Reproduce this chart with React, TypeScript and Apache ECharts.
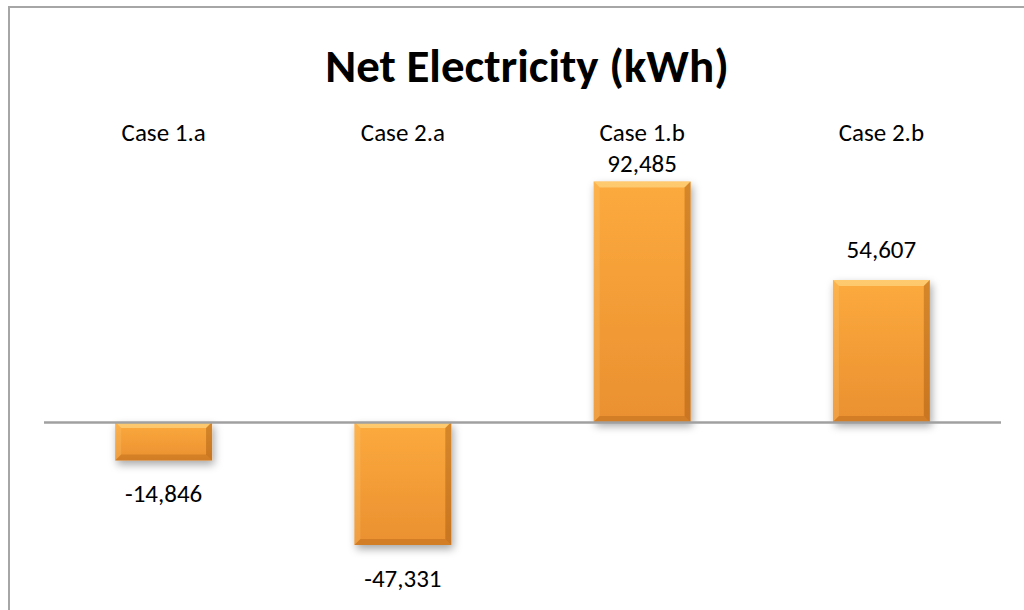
import React, { useEffect, useRef } from "react";
import * as echarts from "echarts";

// Net electricity per case (kWh)
const categories = ["Case 1.a", "Case 2.a", "Case 1.b", "Case 2.b"];
const netKwh = [-14846, -47331, 92485, 54607];

const FONT = "Carlito, Calibri, Lato, 'Noto Sans', sans-serif";

export default function App() {
  const ref = useRef<HTMLDivElement>(null);

  useEffect(() => {
    if (!ref.current) return;
    const chart = echarts.init(ref.current, null, { renderer: "svg" });

    const barFill = new echarts.graphic.LinearGradient(0, 0, 0, 1, [
      { offset: 0, color: "#fcaa3e" },
      { offset: 1, color: "#ea9030" },
    ]);

    const renderBar = (params: any, api: any) => {
      const i = api.value(0);
      const v = api.value(1);
      const base = api.coord([i, 0]);
      const end = api.coord([i, v]);
      const bw = api.size([1, 0])[0] * 0.405;
      const x0 = base[0] - bw / 2;
      const x1 = x0 + bw;
      const top = Math.min(base[1], end[1]);
      const bot = Math.max(base[1], end[1]);
      const h = bot - top;
      const b = Math.min(6, h / 3);
      const gridTop = params.coordSys.y;
      // value labels sit outside the bar end, kept clear of the category labels
      const labelY = v >= 0 ? Math.max(top - 31, gridTop + 1) : bot + 33;
      return {
        type: "group",
        children: [
          {
            type: "rect",
            shape: { x: x0, y: top, width: bw, height: h },
            style: {
              fill: barFill,
              shadowBlur: 8,
              shadowColor: "rgba(0,0,0,0.35)",
              shadowOffsetX: 2,
              shadowOffsetY: 4,
            },
          },
          {
            type: "polygon",
            shape: { points: [[x0, top], [x1, top], [x1 - b, top + b], [x0 + b, top + b]] },
            style: { fill: "rgba(255,228,150,0.55)" },
          },
          {
            type: "polygon",
            shape: { points: [[x0, top], [x0 + b, top + b], [x0 + b, bot - b], [x0, bot]] },
            style: { fill: "rgba(255,205,120,0.25)" },
          },
          {
            type: "polygon",
            shape: { points: [[x1, top], [x1, bot], [x1 - b, bot - b], [x1 - b, top + b]] },
            style: { fill: "rgba(140,70,5,0.35)" },
          },
          {
            type: "polygon",
            shape: { points: [[x0, bot], [x1, bot], [x1 - b, bot - b], [x0 + b, bot - b]] },
            style: { fill: "rgba(140,70,5,0.25)" },
          },
          {
            type: "text",
            style: {
              text: v.toLocaleString("en-US"),
              x: base[0],
              y: labelY,
              align: "center",
              verticalAlign: "middle",
              fill: "#000",
              fontSize: 25,
              lineHeight: 25,
              fontFamily: FONT,
            },
          },
        ],
      };
    };

    chart.setOption({
      animation: false,
      backgroundColor: "#fff",
      title: {
        text: "Net Electricity (kWh)",
        left: 522,
        textAlign: "center",
        top: 36,
        textStyle: {
          fontSize: 47,
          lineHeight: 50,
          fontWeight: "bold",
          fontFamily: FONT,
          color: "#000",
        },
      },
      graphic: [
        {
          type: "rect",
          shape: { x: 9, y: 7, width: 1100, height: 700 },
          style: { fill: "none", stroke: "#a6a6a6", lineWidth: 2 },
          silent: true,
        },
      ],
      grid: { left: 44, right: 23, top: 162, bottom: 32 },
      xAxis: {
        type: "category",
        data: categories,
        position: "top",
        axisLine: { show: false },
        axisTick: { show: false },
        splitLine: { show: false },
        axisLabel: { fontSize: 25, lineHeight: 25, fontFamily: FONT, color: "#000", margin: 17 },
      },
      yAxis: {
        type: "value",
        min: -60000,
        max: 100000,
        show: false,
      },
      series: [
        {
          type: "line",
          data: [],
          silent: true,
          markLine: {
            symbol: "none",
            silent: true,
            label: { show: false },
            lineStyle: { color: "#a0a0a0", width: 2.5, type: "solid" },
            data: [{ yAxis: 0 }],
          },
          z: 1,
        },
        {
          type: "custom",
          data: netKwh.map((v, i) => [i, v]),
          encode: { x: 0, y: 1 },
          renderItem: renderBar,
          z: 2,
        },
      ],
    });

    return () => chart.dispose();
  }, []);

  return (
    <div
      ref={ref}
      style={{ position: "fixed", left: 0, top: 0, width: 1024, height: 610 }}
    />
  );
}
